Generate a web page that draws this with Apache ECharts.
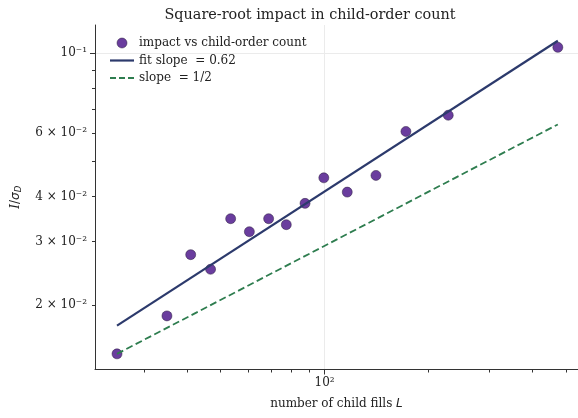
<!DOCTYPE html>
<html lang="en" style="height: 100%">
  <head>
    <meta charset="utf-8" />
    <script src="https://cdn.jsdelivr.net/npm/echarts@6/dist/echarts.min.js"></script>
  </head>
  <body style="height: 100%; margin: 0; background: #fff">
    <div id="container" style="width: 578px; height: 418px"></div>
    <script type="text/javascript">
      // child fills L and impact I/sigma_D
      var fills = [25.1, 35.0, 41.0, 46.8, 53.5, 60.6, 68.9, 77.5, 87.8, 99.5, 116.3, 140.8, 171.9, 227.9, 472.8];
      var impact = [0.01462, 0.01864, 0.02758, 0.02512, 0.03471, 0.03194, 0.03471, 0.03341, 0.03829, 0.04509, 0.04115, 0.04579, 0.06066, 0.0673, 0.1039];

      // end points of the two guide lines
      var lineX = [25.1, 472.8];
      var fitY = [0.01752, 0.1084];
      var halfY = [0.01462, 0.06345];

      // ticks
      var xMajor = [100];
      var xMinor = [30, 40, 50, 60, 70, 80, 90, 200, 300, 400, 500];
      var yMajor = [0.1];
      var yMinor = [0.02, 0.03, 0.04, 0.05, 0.06, 0.07, 0.08, 0.09];
      var yLabels = { "0.1": "10⁻¹", "0.06": "6 × 10⁻²", "0.04": "4 × 10⁻²", "0.03": "3 × 10⁻²", "0.02": "2 × 10⁻²" };
      var xLabels = { "100": "10²" };

      var lg = Math.log10;
      function pairs(xs, ys) {
        var res = [];
        for (var i = 0; i < xs.length; i++) res.push([lg(xs[i]), lg(ys[i])]);
        return res;
      }
      function fromLog(v) {
        return String(+Math.pow(10, v).toPrecision(3));
      }

      var serif = "DejaVu Serif";
      var ink = "#222";
      var xRange = [1.336, 2.733];
      var yRange = [-1.8785, -0.9213];

      // legend glyphs: a solid and a dashed stroke, 24px long
      var solidIcon = "path://M0,0h24v2.2h-24z";
      var dashIcon = "path://M0,0h6v1.8h-6z M9,0h6v1.8h-6z M18,0h6v1.8h-6z";

      var myChart = echarts.init(document.getElementById("container"), null, { renderer: "canvas" });

      var option = {
        backgroundColor: "#fff",
        animation: false,
        title: {
          text: "Square-root impact in child-order count",
          left: 305,
          textAlign: "center",
          top: 3,
          textStyle: { fontFamily: serif, fontSize: 14.4, fontWeight: "normal", color: ink }
        },
        legend: {
          orient: "vertical",
          left: 105,
          top: 32,
          itemWidth: 24,
          itemHeight: 10,
          itemGap: 5.5,
          symbolKeepAspect: true,
          textStyle: { fontFamily: serif, fontSize: 12, color: ink },
          data: [
            { name: "impact vs child-order count", icon: "circle", itemStyle: { borderWidth: 0.5 } },
            { name: "fit slope  = 0.62", icon: solidIcon },
            { name: "slope  = 1/2", icon: dashIcon }
          ]
        },
        grid: { left: 95, right: 0, top: 25, bottom: 48.5 },
        xAxis: [
          {
            type: "value",
            min: xRange[0],
            max: xRange[1],
            name: "number of child fills {l|L}",
            nameLocation: "middle",
            nameGap: 28,
            nameTextStyle: {
              fontFamily: serif,
              fontSize: 12,
              color: ink,
              rich: { l: { fontFamily: "DejaVu Sans", fontStyle: "italic", fontSize: 12, color: ink } }
            },
            axisLine: { lineStyle: { color: "#333", width: 1 } },
            axisTick: { customValues: xMajor.map(lg), length: 5, lineStyle: { color: "#333" } },
            axisLabel: {
              customValues: xMajor.map(lg),
              margin: 7,
              fontFamily: serif,
              fontSize: 12,
              color: ink,
              formatter: function (v) { return xLabels[fromLog(v)] || ""; }
            },
            splitLine: { show: true, lineStyle: { color: "#ebebeb", width: 1 } }
          },
          {
            type: "value",
            position: "bottom",
            min: xRange[0],
            max: xRange[1],
            axisLine: { show: false },
            axisTick: { customValues: xMinor.map(lg), length: 3, lineStyle: { color: "#333" } },
            axisLabel: { show: false },
            splitLine: { show: false }
          }
        ],
        yAxis: [
          {
            type: "value",
            min: yRange[0],
            max: yRange[1],
            name: "{i|I}/{s|σ}{sub|D}",
            nameLocation: "middle",
            nameGap: 72,
            nameRotate: 90,
            nameTextStyle: {
              fontFamily: serif,
              fontSize: 12,
              color: ink,
              rich: {
                i: { fontFamily: serif, fontStyle: "italic", fontSize: 12, color: ink },
                s: { fontFamily: "DejaVu Sans", fontStyle: "italic", fontSize: 12, color: ink },
                sub: { fontFamily: "DejaVu Sans", fontStyle: "italic", fontSize: 8.5, color: ink, verticalAlign: "bottom", padding: [6, 0, 0, 0] }
              }
            },
            axisLine: { show: true, lineStyle: { color: "#333", width: 1 } },
            axisTick: { show: true, customValues: yMajor.map(lg), length: 5, lineStyle: { color: "#333" } },
            axisLabel: {
              customValues: Object.keys(yLabels).map(Number).map(lg),
              margin: 8,
              fontFamily: serif,
              fontSize: 12,
              color: ink,
              formatter: function (v) { return yLabels[fromLog(v)] || ""; }
            },
            splitLine: { show: true, lineStyle: { color: "#ebebeb", width: 1 } }
          },
          {
            type: "value",
            position: "left",
            min: yRange[0],
            max: yRange[1],
            axisLine: { show: false },
            axisTick: { show: true, customValues: yMinor.map(lg), length: 3, lineStyle: { color: "#333" } },
            axisLabel: { show: false },
            splitLine: { show: false }
          }
        ],
        series: [
          {
            name: "impact vs child-order count",
            type: "scatter",
            data: pairs(fills, impact),
            symbolSize: 10,
            itemStyle: { color: "#6a3d9e", borderColor: "#2b1f3d", borderWidth: 0.5, opacity: 1 },
            z: 2
          },
          {
            name: "fit slope  = 0.62",
            type: "line",
            data: pairs(lineX, fitY),
            symbol: "none",
            lineStyle: { color: "#2c3a6c", width: 2.2 },
            itemStyle: { color: "#2c3a6c" },
            z: 3
          },
          {
            name: "slope  = 1/2",
            type: "line",
            data: pairs(lineX, halfY),
            symbol: "none",
            lineStyle: { color: "#2e7d4f", width: 1.8, type: [7, 3.5] },
            itemStyle: { color: "#2e7d4f" },
            z: 3
          }
        ]
      };

      myChart.setOption(option);
    </script>
  </body>
</html>
